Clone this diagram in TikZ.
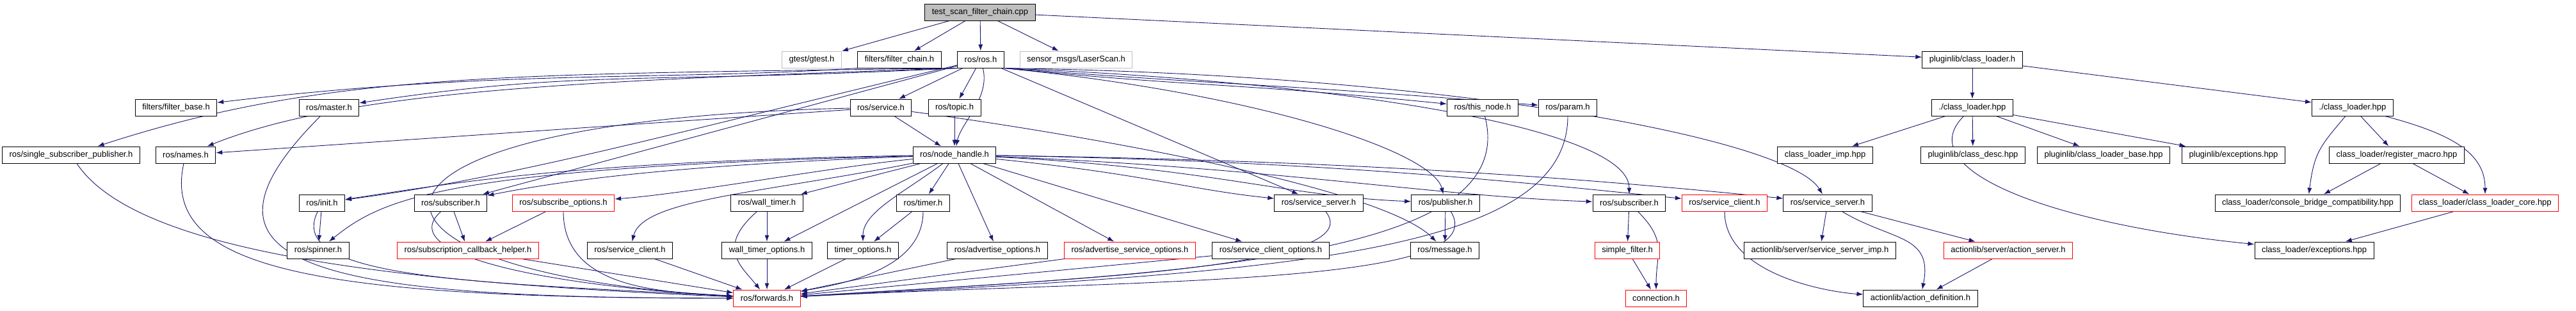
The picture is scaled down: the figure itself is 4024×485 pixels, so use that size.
\documentclass[tikz,border=0pt]{standalone}
\usepackage{fontspec}
\setmainfont{Liberation Sans}
\usepackage{tikz}
\usetikzlibrary{arrows.meta,backgrounds}
\definecolor{edgeblue}{HTML}{191970}
\definecolor{ghost}{HTML}{BFBFBF}

\begin{document}
\begin{tikzpicture}[x=1pt,y=-1pt,
	file/.style={draw=black, line width=1pt, fill=white, font=\fontsize{13}{15}\selectfont,
		inner xsep=11pt, inner ysep=0pt, minimum height=26pt},
	trunc/.style={file, draw=red},
	undoc/.style={file, draw=ghost},
	root/.style={file, fill=ghost},
	dep/.style={edgeblue, line width=0.9pt, -{Latex[length=10pt,width=7pt]}}]
	\useasboundingbox (0,0) rectangle (4024,485);
	
	% top of the graph
	\node[root] (cpp) at (1531,19) {test\_scan\_filter\_chain.cpp};
	\node[undoc] (gtest) at (1268,93) {gtest/gtest.h};
	\node[file] (fchain) at (1405,93) {filters/filter\_chain.h};
	\node[file] (rosh) at (1532,93) {ros/ros.h};
	\node[undoc] (laser) at (1681,93) {sensor\_msgs/LaserScan.h};
	\node[file] (plcl) at (3081,93) {pluginlib/class\_loader.h};
	
	\node[file] (fbase) at (275,168) {filters/filter\_base.h};
	\node[file] (master) at (514,168) {ros/master.h};
	\node[file] (service) at (1376,168) {ros/service.h};
	\node[file] (topic) at (1491,168) {ros/topic.h};
	\node[file] (thisnode) at (2316,168) {ros/this\_node.h};
	\node[file] (param) at (2449,168) {ros/param.h};
	\node[file] (clhppL) at (3081,168) {./class\_loader.hpp};
	\node[file] (clhppR) at (3675,168) {./class\_loader.hpp};
	
	\node[file] (ssp) at (111,242) {ros/single\_subscriber\_publisher.h};
	\node[file] (names) at (290,242) {ros/names.h};
	\node[file] (nh) at (1491,242) {ros/node\_handle.h};
	\node[file] (climp) at (2851,242) {class\_loader\_imp.hpp};
	\node[file] (classdesc) at (3082,242) {pluginlib/class\_desc.hpp};
	\node[file] (clbase) at (3286,242) {pluginlib/class\_loader\_base.hpp};
	\node[file] (plexc) at (3489,242) {pluginlib/exceptions.hpp};
	\node[file] (regmacro) at (3744,242) {class\_loader/register\_macro.hpp};
	
	\node[file] (init) at (503,317) {ros/init.h};
	\node[file] (subL) at (704,317) {ros/subscriber.h};
	\node[trunc] (subopts) at (880,317) {ros/subscribe\_options.h};
	\node[file] (wtimer) at (1198,317) {ros/wall\_timer.h};
	\node[file] (timer) at (1442,317) {ros/timer.h};
	\node[file] (ssL) at (2060,317) {ros/service\_server.h};
	\node[file] (publisher) at (2258,317) {ros/publisher.h};
	\node[file] (subR) at (2545,317) {ros/subscriber.h};
	\node[trunc] (scR) at (2694,317) {ros/service\_client.h};
	\node[file] (ssR) at (2855,317) {ros/service\_server.h};
	\node[file] (cbcompat) at (3605,317) {class\_loader/console\_bridge\_compatibility.hpp};
	\node[trunc] (clcore) at (3882,317) {class\_loader/class\_loader\_core.hpp};
	
	\node[file] (spinner) at (497,391) {ros/spinner.h};
	\node[trunc] (scbh) at (731,391) {ros/subscription\_callback\_helper.h};
	\node[file] (scL) at (984,391) {ros/service\_client.h};
	\node[file] (wtopts) at (1198,391) {wall\_timer\_options.h};
	\node[file] (topts) at (1348,391) {timer\_options.h};
	\node[file] (advopts) at (1558,391) {ros/advertise\_options.h};
	\node[trunc] (advsrvopts) at (1765,391) {ros/advertise\_service\_options.h};
	\node[file] (scopts) at (1985,391) {ros/service\_client\_options.h};
	\node[file] (message) at (2257,391) {ros/message.h};
	\node[trunc] (sfilter) at (2542,391) {simple\_filter.h};
	\node[file] (ssimp) at (2843,391) {actionlib/server/service\_server\_imp.h};
	\node[trunc] (actserver) at (3137,391) {actionlib/server/action\_server.h};
	\node[file] (clexc) at (3615,391) {class\_loader/exceptions.hpp};
	
	\node[trunc] (fwd) at (1198,466) {ros/forwards.h};
	\node[trunc] (conn) at (2587,466) {connection.h};
	\node[file] (actdef) at (3000,466) {actionlib/action\_definition.h};
	
	\begin{pgfonlayer}{background}
	% includes of the test file
	\draw[dep] (cpp) -- (gtest);
	\draw[dep] (cpp) -- (fchain);
	\draw[dep] (cpp) -- (rosh);
	\draw[dep] (cpp) -- (laser);
	\draw[dep] (cpp) -- (plcl);
	\draw[dep] (fchain.south west) .. controls +(-300,20) and +(500,-60) .. (fbase);
	
	% ros/ros.h
	\draw[dep] (rosh.south west) .. controls +(-700,10) and +(400,-130) .. (ssp);
	\draw[dep] (rosh.south west) .. controls +(-600,20) and +(250,-100) .. (names);
	\draw[dep] (rosh.south west) .. controls +(-500,25) and +(400,-60) .. (master);
	\draw[dep] (rosh) -- (service);
	\draw[dep] (rosh) -- (topic);
	\draw[dep] (rosh) .. controls +(15,60) and +(10,-50) .. (nh);
	\draw[dep] (rosh.south east) .. controls +(300,30) and +(-400,-40) .. (thisnode);
	\draw[dep] (rosh.south east) .. controls +(400,30) and +(-500,-40) .. (param);
	\draw[dep] (rosh) .. controls +(-500,120) and +(300,-40) .. (init);
	\draw[dep] (rosh) -- (subL);
	\draw[dep] (rosh.south east) .. controls +(400,40) and +(-20,-80) .. (publisher);
	\draw[dep] (rosh) -- (ssL);
	\draw[dep] (rosh.south east) .. controls +(500,20) and +(0,-120) .. (subR);
	\draw[dep] (rosh.south east) .. controls +(700,10) and +(-60,-100) .. (ssR);
	
	\draw[dep] (service) -- (names);
	\draw[dep] (service) .. controls +(-900,20) and +(-700,-40) .. (fwd);
	\draw[dep] (service) -- (nh);
	\draw[dep] (service) .. controls +(300,40) and +(-100,-100) .. (message);
	\draw[dep] (topic) -- (nh);
	
	% ros/node_handle.h
	\draw[dep] (nh) .. controls +(-600,10) and +(200,-30) .. (init);
	\draw[dep] (nh) .. controls +(-800,20) and +(100,-80) .. (spinner);
	\draw[dep] (nh) .. controls +(-400,15) and +(200,-40) .. (subL);
	\draw[dep] (nh) .. controls +(-200,20) and +(200,-15) .. (subopts);
	\draw[dep] (nh) .. controls +(-300,60) and +(20,-80) .. (scL);
	\draw[dep] (nh) -- (wtimer);
	\draw[dep] (nh) -- (wtopts);
	\draw[dep] (nh) -- (timer);
	\draw[dep] (nh) .. controls +(-80,60) and +(0,-60) .. (topts);
	\draw[dep] (nh) -- (advopts);
	\draw[dep] (nh) -- (advsrvopts);
	\draw[dep] (nh) -- (scopts);
	\draw[dep] (nh) .. controls +(300,30) and +(-200,-20) .. (ssL);
	\draw[dep] (nh) .. controls +(400,20) and +(-250,-10) .. (publisher);
	\draw[dep] (nh) .. controls +(500,20) and +(-300,-10) .. (subR);
	\draw[dep] (nh) .. controls +(600,10) and +(-300,-30) .. (scR);
	\draw[dep] (nh) .. controls +(700,10) and +(-300,-30) .. (ssR);
	
	% down to ros/forwards.h
	\draw[dep] (ssp) .. controls +(100,150) and +(-600,-25) .. (fwd);
	\draw[dep] (names) .. controls +(-40,180) and +(-700,0) .. (fwd);
	\draw[dep] (master) .. controls +(-250,250) and +(-700,0) .. (fwd);
	\draw[dep] (init) -- (spinner);
	\draw[dep] (init) .. controls +(-60,120) and +(-450,-25) .. (fwd);
	\draw[dep] (subL) -- (scbh);
	\draw[dep] (subL) .. controls +(-90,80) and +(-350,-20) .. (fwd);
	\draw[dep] (subopts) -- (scbh);
	\draw[dep] (subopts) .. controls +(0,140) and +(-150,-10) .. (fwd);
	\draw[dep] (scbh) -- (fwd);
	\draw[dep] (scL) -- (fwd);
	\draw[dep] (wtimer) -- (wtopts);
	\draw[dep] (wtimer) .. controls +(-80,70) and +(-40,-50) .. (fwd);
	\draw[dep] (wtopts) -- (fwd);
	\draw[dep] (timer) -- (topts);
	\draw[dep] (timer) .. controls +(0,110) and +(100,-20) .. (fwd);
	\draw[dep] (topts) -- (fwd);
	\draw[dep] (advopts) -- (fwd);
	\draw[dep] (advsrvopts) -- (fwd);
	\draw[dep] (scopts) -- (fwd);
	\draw[dep] (ssL) .. controls +(80,100) and +(500,-30) .. (fwd);
	\draw[dep] (publisher) .. controls +(80,130) and +(600,-30) .. (fwd);
	\draw[dep] (publisher) -- (message);
	\draw[dep] (thisnode) .. controls +(60,230) and +(700,-40) .. (fwd);
	\draw[dep] (param) .. controls +(0,230) and +(800,-40) .. (fwd);
	
	% right hand side
	\draw[dep] (subR) -- (sfilter);
	\draw[dep] (subR) .. controls +(60,60) and +(0,-70) .. (conn);
	\draw[dep] (sfilter) -- (conn);
	\draw[dep] (scR) .. controls +(0,110) and +(-150,-10) .. (actdef);
	\draw[dep] (ssR) -- (ssimp);
	\draw[dep] (ssR) .. controls +(100,60) and +(20,-100) .. (actdef);
	\draw[dep] (ssR) -- (actserver);
	\draw[dep] (actserver) -- (actdef);
	
	% pluginlib / class_loader
	\draw[dep] (plcl) -- (clhppL);
	\draw[dep] (plcl) -- (clhppR);
	\draw[dep] (clhppL) -- (climp);
	\draw[dep] (clhppL) -- (classdesc);
	\draw[dep] (clhppL) -- (clbase);
	\draw[dep] (clhppL) -- (plexc);
	\draw[dep] (clhppL) .. controls +(-100,100) and +(-400,-40) .. (clexc);
	\draw[dep] (clhppR) -- (regmacro);
	\draw[dep] (clhppR) .. controls +(-50,60) and +(10,-80) .. (cbcompat);
	\draw[dep] (clhppR) .. controls +(150,40) and +(0,-80) .. (clcore);
	\draw[dep] (regmacro) -- (cbcompat);
	\draw[dep] (regmacro) -- (clcore);
	\draw[dep] (clcore) -- (clexc);
	\end{pgfonlayer}
\end{tikzpicture}
\end{document}
